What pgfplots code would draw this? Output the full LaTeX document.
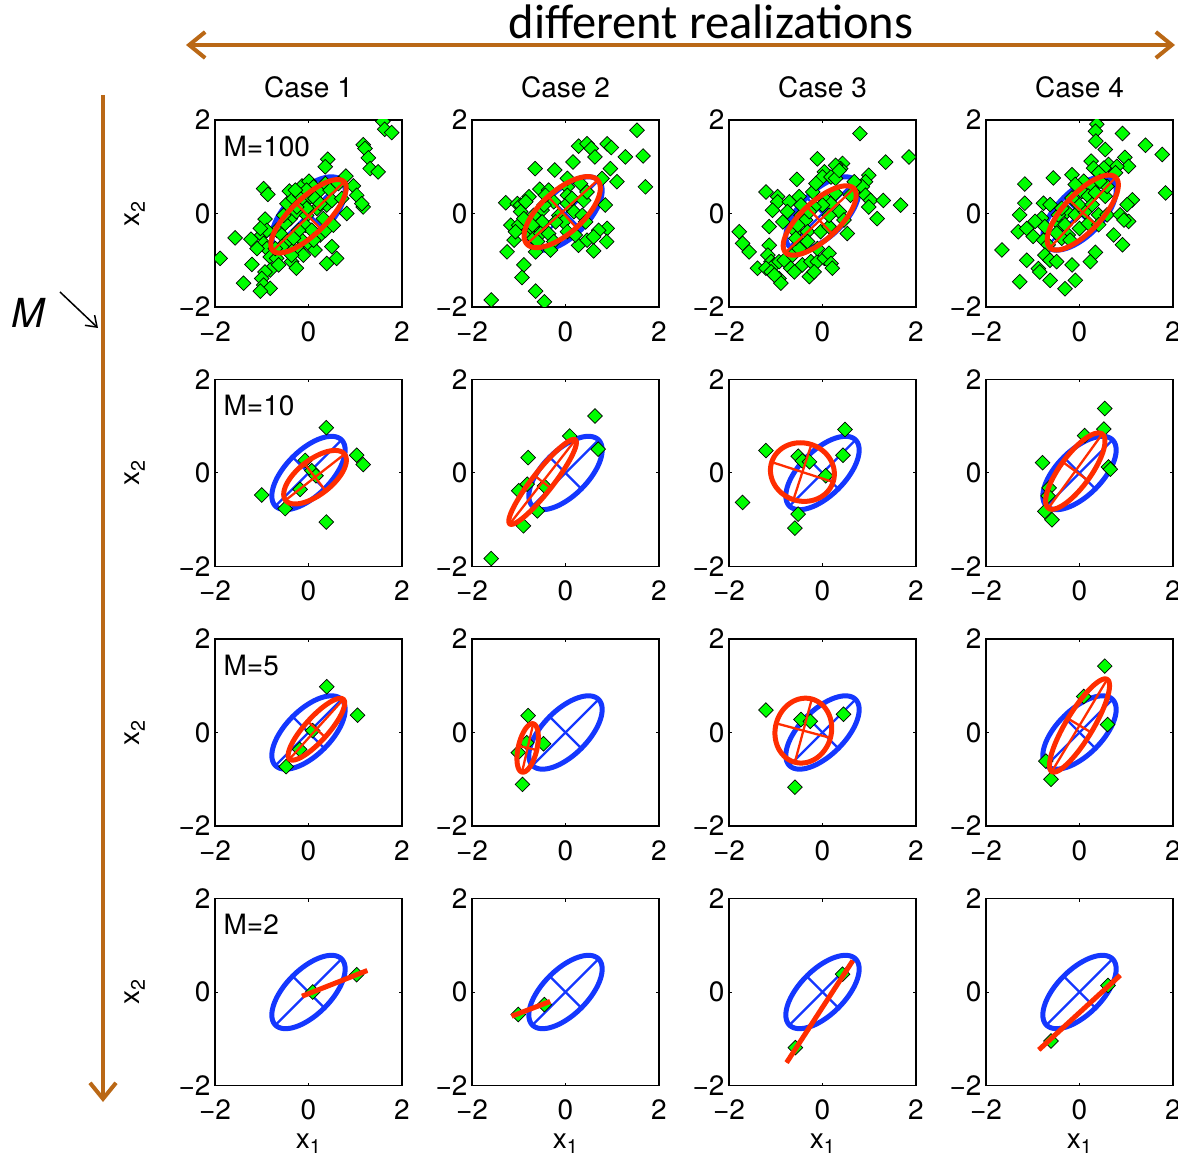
\documentclass[border=0pt]{standalone}
\usepackage{fontspec}
\setmainfont{TeX Gyre Heros}
\newfontfamily\carlito{Carlito}
\usepackage{pgfplots}
\pgfplotsset{compat=1.18}
\usetikzlibrary{arrows.meta}
\definecolor{blueE}{RGB}{20,55,255}
\definecolor{redE}{RGB}{255,45,0}
\definecolor{greenM}{RGB}{0,255,0}
\definecolor{brownA}{RGB}{186,104,22}
% ellipse: cx cy a b theta color
\newcommand{\covell}[6]{%
 \addplot[#6, line width=5pt, domain=0:365, samples=120] ({#1+#3*cos(x)*cos(#5)-#4*sin(x)*sin(#5)},{#2+#3*cos(x)*sin(#5)+#4*sin(x)*cos(#5)});
 \addplot[#6, line width=2.3pt, domain=-1:1, samples=2] ({#1+x*#3*cos(#5)},{#2+x*#3*sin(#5)});
 \addplot[#6, line width=2.3pt, domain=-1:1, samples=2] ({#1-x*#4*sin(#5)},{#2+x*#4*cos(#5)});
}
\newcommand{\trueell}{\covell{0}{0}{1.0}{0.48}{45}{blueE}}
\newcommand{\mlab}[1]{\node[anchor=west, font=\fontsize{28}{32}\selectfont, inner sep=0pt] at (axis cs:-1.82,1.44) {#1};}
\pgfplotsset{
 panel/.style={
  width=187pt,height=187pt,scale only axis,
  xmin=-2,xmax=2,ymin=-2,ymax=2,
  xtick={-2,0,2},ytick={-2,0,2},
  xticklabels={−2,0,2},yticklabels={−2,0,2},
  tick align=inside, major tick length=3pt,
  tick style={black,line width=1pt},
  axis line style={black,line width=1.2pt},
  ticklabel style={font=\fontsize{28}{32}\selectfont},
  xticklabel style={yshift=-11pt},
  yticklabel style={xshift=-1pt},
  label style={font=\fontsize{28}{32}\selectfont},
  title style={font=\fontsize{28}{32}\selectfont, at={(axis description cs:0.5,1.142)}, anchor=center},
  anchor=north west,
  clip marker paths=true,
 },
 pts/.style={only marks, mark=square*, mark size=5.2pt, mark options={rotate=45, fill=greenM, draw=black, line width=0.7pt}},
 ylab/.style={ylabel={x\textsubscript{2}}, ylabel style={at={(axis description cs:-0.428,0.5)},anchor=center}},
 xlab/.style={xlabel={x\textsubscript{1}}, xlabel style={at={(axis description cs:0.5,-0.31)},anchor=center}},
}
\begin{document}
\begin{tikzpicture}[x=1pt,y=1pt]
\path[use as bounding box] (0,0) rectangle (1178,1163);
\clip (0,0) rectangle (1178,1163);
% header arrows and text
\draw[brownA, line width=4pt, {Straight Barb[length=16pt,width=26pt]}-{Straight Barb[length=16pt,width=26pt]}] (186,1118) -- (1175,1118);
\node[font=\carlito\fontsize{48.5}{56}\selectfont, inner sep=0pt] at (711,1141) {different realizations};
\draw[brownA, line width=4pt, -{Straight Barb[length=16pt,width=26pt]}] (103,1068) -- (103,61);
\node[font=\itshape\fontsize{40}{48}\selectfont, inner sep=0pt] at (28,850) {M};
\draw[black, line width=1.5pt, -{Straight Barb[length=10pt,width=14pt]}] (60,871) -- (98,835);

% ---------------- Row 1: M=100 ----------------
\begin{axis}[panel, at={(215pt,1043pt)}, title={Case 1}, ylab]
\trueell
\addplot[pts] coordinates {(1.59,1.97)(1.63,1.80)(1.78,1.73)(1.17,1.47)(1.21,1.39)(1.28,1.19)(1.32,0.96)(1.49,0.89)(0.41,1.16)(0.36,1.00)(0.80,0.80)(-0.96,0.53)(-0.87,0.41)(-0.41,0.48)(-0.14,0.59)(0.01,0.69)(0.11,0.57)(0.25,0.50)(0.36,0.64)(0.46,0.50)(0.64,0.64)(0.96,0.59)(1.03,0.39)(1.17,0.14)(1.14,0.21)(0.82,0.0)(-0.93,-0.12)(-0.39,-0.11)(-0.26,0.04)(-0.04,-0.04)(0.18,0.11)(0.39,0.18)(0.50,0.28)(0.32,-0.11)(-1.57,-0.52)(-1.23,-0.55)(-1.0,-0.46)(-0.96,-0.64)(-0.89,-0.75)(-0.68,-0.36)(-0.57,-0.46)(-0.50,-0.21)(-0.82,-0.93)(-0.68,-0.96)(-0.36,-0.75)(-0.36,-1.03)(-0.26,-1.17)(-0.14,-0.57)(0.04,-0.68)(0.14,-0.78)(0.25,-0.46)(0.50,-0.71)(0.60,-0.96)(0.39,-1.07)(-1.89,-0.96)(-1.21,-1.09)(-0.82,-1.21)(-0.93,-1.25)(-1.00,-1.39)(-0.96,-1.53)(-0.82,-1.60)(-1.39,-1.49)(-1.03,-1.66)(-0.46,0.21)(-0.32,0.32)(-0.18,0.39)(-0.07,0.25)(0.04,0.36)(0.14,0.32)(0.25,0.21)(-0.07,-0.25)(0.07,-0.36)(-0.21,-0.36)(-0.46,-0.60)(-0.32,-0.53)(-0.57,-0.71)(-0.71,-0.75)(-0.21,-0.78)(-0.11,-0.89)(-0.36,-0.89)(0.36,-0.36)(0.53,-0.25)(-0.04,0.50)(-0.28,0.50)(-0.53,-0.04)(-0.89,-0.36)(-1.03,-0.32)(-1.10,-0.75)(0.11,-0.57)(-0.64,-1.10)(-0.04,0.11)(-0.25,0.14)(0.71,0.32)};
\covell{0}{-0.06}{1.06}{0.38}{44}{redE}
\mlab{M=100}
\end{axis}
\begin{axis}[panel, at={(472pt,1043pt)}, title={Case 2}]
\trueell
\addplot[pts] coordinates {(1.53,1.78)(0.28,1.44)(0.46,1.49)(0.55,1.39)(0.89,1.49)(0.98,1.41)(0.63,1.21)(1.28,1.21)(1.66,1.23)(0.16,1.10)(-0.65,0.96)(-0.23,0.93)(0.96,0.96)(0.78,0.75)(1.10,0.68)(1.71,0.57)(-0.55,0.52)(-0.36,0.50)(0.04,0.57)(0.04,0.39)(0.32,0.64)(0.85,0.18)(-1.28,0.23)(-1.03,0.21)(-0.96,0.18)(-0.78,0.36)(-0.85,0.25)(-0.96,0.04)(-0.50,0.07)(-0.25,0.25)(-0.14,-0.04)(-0.50,-0.18)(0.18,0.04)(0.36,-0.04)(0.43,-0.18)(-1.17,-0.25)(-1.00,-0.25)(-0.82,-0.39)(-0.68,-0.36)(-0.68,-0.53)(-0.53,-0.43)(-0.36,-0.43)(-0.04,-0.18)(-0.25,-0.60)(0.89,-0.32)(0.71,-0.36)(-1.10,-0.57)(0.28,-0.68)(0.46,-0.57)(0.60,-0.50)(0.60,-0.80)(0.88,-0.60)(-0.64,-0.82)(-0.32,-0.78)(-1.25,-0.82)(-0.89,-1.10)(-0.93,-1.37)(-0.64,-1.66)(-0.45,-1.89)(-1.59,-1.85)(-0.46,0.18)(-0.68,-0.04)(-0.21,-0.18)(0.04,0.21)(0.14,0.32)(-0.43,0.39)(-0.89,-0.11)(-0.60,-0.60)(0.04,-0.39)(0.21,-0.46)(0.39,0.28)(0.46,0.46)(0.04,0.75)(-0.71,-0.25)(-1.07,-0.39)};
\covell{-0.07}{0.03}{1.02}{0.45}{42}{redE}
\end{axis}
\begin{axis}[panel, at={(729pt,1043pt)}, title={Case 3}]
\trueell
\addplot[pts] coordinates {(0.80,1.71)(1.85,1.21)(1.35,1.10)(-0.11,1.17)(0.43,1.07)(0.39,0.96)(0.28,1.03)(0.04,0.89)(0,0.78)(0.18,0.78)(0.28,0.75)(0.99,0.82)(0.92,0.68)(-0.55,0.73)(0.75,0.57)(0.85,0.57)(0.92,0.39)(1.03,0.28)(0.99,0.14)(1.30,0.28)(1.17,-0.11)(1.67,0.18)(-1.21,0.46)(-0.96,0.36)(-0.96,0.25)(-0.71,0.25)(-0.50,0.36)(-0.21,0.46)(0.04,0.32)(0.18,0.21)(-1.07,0.07)(-0.46,-0.04)(-0.36,-0.14)(0,0.18)(0.36,0.04)(0.46,-0.14)(-1.14,-0.28)(-1.78,-0.39)(-1.71,-0.64)(-1.57,-0.82)(0.53,-0.43)(-0.57,-0.39)(-0.32,-0.39)(-0.04,-0.39)(0.14,-0.28)(-1.14,-0.68)(-1.17,-0.89)(-1.10,-1.03)(-1.03,-1.10)(-1.39,-1.17)(-1.21,-1.17)(-0.93,-1.03)(-0.82,-1.00)(-0.68,-1.17)(-0.60,-1.25)(-0.43,-1.10)(-0.25,-1.03)(-0.11,-1.03)(0.04,-0.96)(0.14,-0.85)(0.18,-1.07)(0.21,-1.17)(-0.28,-1.35)(-0.18,-1.25)(-0.93,-1.39)(-0.89,-1.49)(-1.10,-1.25)(-1.03,-1.32)(-0.64,-0.89)(-0.50,-0.75)(-0.18,0.14)(-0.28,0.04)(0.14,-0.04)(-0.53,-0.25)(-0.32,-0.60)(-0.11,-0.75)(-0.57,-0.53)(-0.75,0.04)(-0.85,-0.18)(-0.14,0.64)(0.60,0.39)(0.68,0.68)(-0.46,0.18)(0.28,0.43)(0.36,0.92)};
\covell{-0.06}{-0.15}{1.0}{0.40}{43}{redE}
\end{axis}
\begin{axis}[panel, at={(986pt,1043pt)}, title={Case 4}]
\trueell
\addplot[pts] coordinates {(0.37,1.91)(0.34,1.76)(0.35,1.55)(0.92,1.71)(0.55,1.37)(1.41,1.46)(1.77,1.26)(0.97,1.20)(1.05,1.01)(0.25,1.12)(0.30,0.97)(0.62,1.05)(0.80,1.01)(0.77,0.87)(0.52,0.97)(0.41,0.87)(-0.56,0.76)(-0.16,0.83)(-1.17,0.63)(0.09,0.69)(0.27,0.58)(0.05,0.47)(0.19,0.37)(0.34,0.44)(0.55,0.37)(0.59,0.58)(1.84,0.44)(1.13,0.29)(1.02,0.19)(-1.17,0.22)(-1.28,-0.03)(-0.77,0.22)(-0.63,0.19)(-0.81,-0.10)(-0.74,-0.28)(-0.27,0.04)(-0.09,-0.03)(0.12,0.04)(0.41,-0.03)(0.59,-0.03)(0.87,-0.03)(1.05,-0.17)(0.95,-0.14)(-1.31,-0.39)(-1.13,-0.32)(-0.99,-0.49)(-0.42,-0.24)(-0.24,-0.46)(0.0,-0.32)(0.73,-0.46)(0.92,-0.67)(-1.66,-0.78)(-0.77,-0.57)(-0.67,-0.67)(-0.74,-0.89)(-0.63,-1.00)(-0.49,-1.03)(-1.13,-1.00)(-0.38,-0.53)(-0.20,-0.57)(0.34,-0.83)(0.23,-1.03)(-0.16,-1.10)(-0.88,-1.18)(-0.85,-1.25)(-0.63,-1.43)(-0.09,-1.43)(-0.31,-1.61)(-1.28,-1.46)(-0.45,-0.03)(-0.38,0.11)(-0.02,0.19)(0.27,0.19)(0.19,-0.21)(-0.31,-0.24)(0.41,-0.24)(-0.16,0.33)(-0.49,-0.42)(0.44,0.69)(-0.09,0.62)(-0.95,-0.17)};
\covell{0.07}{0.02}{1.03}{0.40}{47}{redE}
\end{axis}

% ---------------- Row 2: M=10 ----------------
\begin{axis}[panel, at={(215pt,783.5pt)}, ylab]
\trueell
\addplot[pts] coordinates {(0.38,0.97)(1.03,0.38)(1.17,0.18)(-0.07,0.27)(0.07,0.05)(0.16,-0.06)(-0.18,-0.35)(-1.0,-0.47)(-0.50,-0.76)(0.38,-1.05)};
\covell{0.14}{-0.09}{0.80}{0.37}{38}{redE}
\mlab{M=10}
\end{axis}
\begin{axis}[panel, at={(472pt,783.5pt)}]
\trueell
\addplot[pts] coordinates {(0.63,1.22)(0.09,0.79)(0.70,0.51)(-0.80,0.33)(-0.82,-0.24)(-1.00,-0.38)(-0.45,-0.28)(-0.60,-0.81)(-0.90,-1.13)(-1.59,-1.83)};
\covell{-0.49}{-0.19}{1.14}{0.22}{52}{redE}
\end{axis}
\begin{axis}[panel, at={(729pt,783.5pt)}]
\trueell
\addplot[pts] coordinates {(0.48,0.93)(-1.21,0.48)(-0.52,0.36)(-0.43,0.26)(-0.28,0.24)(0.44,0.38)(0.07,-0.06)(-1.71,-0.63)(-0.52,-0.88)(-0.59,-1.18)};
\covell{-0.43}{0.02}{0.69}{0.62}{-18}{redE}
\end{axis}
\begin{axis}[panel, at={(986pt,783.5pt)}]
\trueell
\addplot[pts] coordinates {(0.54,1.38)(0.52,0.94)(0.11,0.80)(-0.79,0.22)(0.62,0.13)(0.66,0.08)(-0.65,-0.32)(-0.67,-0.49)(-0.74,-0.82)(-0.59,-1.0)};
\covell{-0.09}{0.04}{0.98}{0.33}{54}{redE}
\end{axis}

% ---------------- Row 3: M=5 ----------------
\begin{axis}[panel, at={(215pt,524pt)}, ylab]
\trueell
\addplot[pts] coordinates {(0.39,0.98)(1.05,0.37)(0.09,0.04)(-0.19,-0.36)(-0.48,-0.73)};
\covell{0.17}{0.07}{0.86}{0.25}{48}{redE}
\mlab{M=5}
\end{axis}
\begin{axis}[panel, at={(472pt,524pt)}]
\trueell
\addplot[pts] coordinates {(-0.80,0.36)(-1.01,-0.43)(-0.47,-0.24)(-0.83,-0.22)(-0.92,-1.11)};
\covell{-0.81}{-0.33}{0.53}{0.20}{77}{redE}
\end{axis}
\begin{axis}[panel, at={(729pt,524pt)}]
\trueell
\addplot[pts] coordinates {(-1.21,0.48)(-0.46,0.28)(-0.26,0.24)(0.45,0.39)(-0.59,-1.17)};
\covell{-0.41}{0.04}{0.70}{0.60}{75}{redE}
\end{axis}
\begin{axis}[panel, at={(986pt,524pt)}]
\trueell
\addplot[pts] coordinates {(0.54,1.42)(0.09,0.77)(0.60,0.17)(-0.72,-0.61)(-0.61,-1.0)};
\covell{0}{0.15}{1.15}{0.29}{59}{redE}
\end{axis}

% ---------------- Row 4: M=2 ----------------
\begin{axis}[panel, at={(215pt,264.5pt)}, ylab, xlab]
\trueell
\addplot[pts] coordinates {(0.09,0.0)(1.03,0.37)};
\covell{0.56}{0.185}{0.75}{0}{21.5}{redE}
\mlab{M=2}
\end{axis}
\begin{axis}[panel, at={(472pt,264.5pt)}, xlab]
\trueell
\addplot[pts] coordinates {(-1.01,-0.48)(-0.45,-0.27)};
\covell{-0.74}{-0.36}{0.44}{0}{21}{redE}
\end{axis}
\begin{axis}[panel, at={(729pt,264.5pt)}, xlab]
\trueell
\addplot[pts] coordinates {(0.43,0.38)(-0.58,-1.19)};
\covell{-0.06}{-0.42}{1.30}{0}{57}{redE}
\end{axis}
\begin{axis}[panel, at={(986pt,264.5pt)}, xlab]
\trueell
\addplot[pts] coordinates {(0.61,0.14)(-0.61,-1.05)};
\covell{0}{-0.44}{1.18}{0}{42.5}{redE}
\end{axis}
\end{tikzpicture}
\end{document}
